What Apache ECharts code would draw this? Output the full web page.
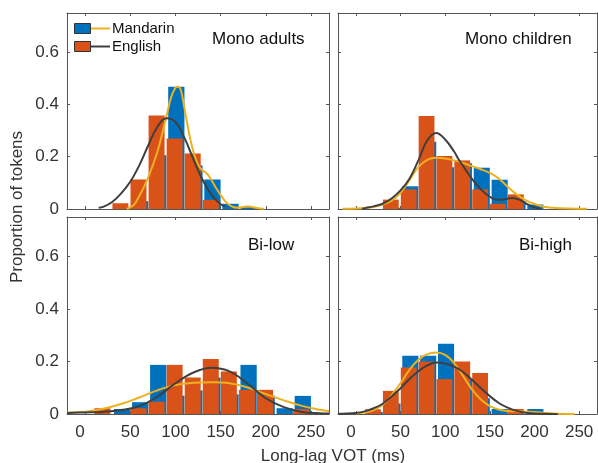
<!DOCTYPE html>
<html>
<head>
<meta charset="utf-8">
<script src="https://cdn.jsdelivr.net/npm/echarts@6/dist/echarts.min.js"></script>
<style>
html,body{margin:0;padding:0;background:#fff}
#chart{width:598px;height:463px}
</style>
</head>
<body>
<div id="chart"></div>
<script>
// histogram bins: left edges, 20 ms wide
var binLeft = [10, 30, 50, 70, 90, 110, 130, 150, 170, 190, 210, 230];
var binWidth = 20;
var xTicks = [0, 50, 100, 150, 200, 250];
var yTicks = [0, 0.2, 0.4, 0.6];
var panelNames = ['Mono adults', 'Mono children', 'Bi-low', 'Bi-high'];

// bar heights (proportion of tokens)
var monoAdultsMandarin = [0, 0, 0.03, 0.206, 0.468, 0.167, 0.113, 0.02, 0.007, 0, 0, 0];
var monoAdultsEnglish = [0, 0.022, 0.113, 0.358, 0.27, 0.212, 0.035, 0, 0, 0, 0, 0];
var monoChildrenMandarin = [0, 0.005, 0.087, 0.257, 0.16, 0.175, 0.158, 0.112, 0.03, 0.017, 0, 0];
var monoChildrenEnglish = [0, 0.036, 0.075, 0.356, 0.203, 0.186, 0.075, 0.02, 0.056, 0, 0, 0];
var biLowMandarin = [0, 0.019, 0.045, 0.187, 0.07, 0.09, 0.139, 0.075, 0.187, 0.07, 0.022, 0.069];
var biLowEnglish = [0.022, 0, 0.022, 0.047, 0.187, 0.139, 0.209, 0.162, 0.092, 0.092, 0, 0.019];
var biHighMandarin = [0.008, 0.04, 0.222, 0.222, 0.267, 0.13, 0.06, 0.019, 0, 0.019, 0, 0];
var biHighEnglish = [0.018, 0.088, 0.177, 0.2, 0.133, 0.2, 0.156, 0, 0.019, 0, 0, 0];

// density curves [ms, proportion]
var monoAdultsMandarinCurve = [[46,0],[50,0.006],[55,0.02],[60,0.05],[65,0.083],[70,0.122],[75,0.168],[80,0.218],[85,0.283],[90,0.353],[95,0.425],[100,0.464],[103,0.468],[106,0.455],[110,0.385],[115,0.292],[120,0.218],[125,0.17],[130,0.148],[135,0.135],[140,0.11],[145,0.08],[150,0.054],[155,0.03],[160,0.015],[165,0.007],[170,0.005],[175,0.008],[180,0.01],[185,0.008],[190,0.004],[198,0.001]];
var monoAdultsEnglishCurve = [[15,0.005],[20,0.008],[30,0.027],[40,0.06],[50,0.104],[60,0.167],[70,0.244],[80,0.314],[90,0.347],[100,0.333],[110,0.272],[120,0.19],[130,0.112],[140,0.054],[150,0.018],[155,0.01]];
var monoChildrenMandarinCurve = [[-15,0.001],[0,0.002],[10,0.004],[20,0.008],[30,0.017],[40,0.032],[50,0.062],[60,0.11],[70,0.16],[80,0.188],[90,0.196],[100,0.193],[110,0.186],[120,0.176],[130,0.164],[140,0.152],[150,0.138],[160,0.117],[170,0.085],[180,0.056],[190,0.034],[200,0.019],[210,0.009],[220,0.005],[240,0.002],[259,0.001]];
var monoChildrenEnglishCurve = [[7,0.001],[10,0.003],[20,0.01],[30,0.02],[40,0.04],[50,0.071],[60,0.116],[70,0.186],[80,0.263],[90,0.291],[100,0.266],[110,0.22],[115,0.19],[120,0.165],[130,0.115],[140,0.075],[150,0.047],[158,0.035],[165,0.036],[175,0.042],[183,0.036],[190,0.022],[200,0.006],[207,0.001]];
var biLowMandarinCurve = [[-20,0.006],[0,0.009],[20,0.02],[40,0.038],[60,0.063],[80,0.09],[100,0.11],[120,0.119],[140,0.121],[160,0.117],[180,0.101],[200,0.076],[220,0.052],[240,0.031],[260,0.016],[270,0.011]];
var biLowEnglishCurve = [[-20,0.004],[0,0.006],[20,0.008],[40,0.015],[60,0.03],[80,0.066],[100,0.117],[120,0.158],[140,0.176],[160,0.162],[180,0.115],[200,0.06],[220,0.026],[240,0.008],[260,0.003],[270,0.002]];
var biHighMandarinCurve = [[0,0.002],[10,0.006],[20,0.015],[30,0.035],[40,0.072],[50,0.117],[60,0.168],[70,0.207],[80,0.228],[90,0.234],[100,0.225],[110,0.194],[120,0.145],[130,0.094],[140,0.055],[150,0.03],[160,0.017],[170,0.011],[180,0.01],[190,0.009],[200,0.008],[210,0.005],[220,0.002],[245,0]];
var biHighEnglishCurve = [[-20,0.001],[0,0.004],[10,0.01],[20,0.022],[30,0.039],[40,0.067],[50,0.098],[60,0.133],[70,0.163],[80,0.185],[90,0.196],[100,0.192],[110,0.18],[120,0.16],[130,0.13],[140,0.098],[150,0.068],[160,0.042],[170,0.024],[180,0.012],[190,0.005],[200,0.002],[226,0]];

var mandarinBars = [monoAdultsMandarin, monoChildrenMandarin, biLowMandarin, biHighMandarin];
var englishBars = [monoAdultsEnglish, monoChildrenEnglish, biLowEnglish, biHighEnglish];
var mandarinCurves = [monoAdultsMandarinCurve, monoChildrenMandarinCurve, biLowMandarinCurve, biHighMandarinCurve];
var englishCurves = [monoAdultsEnglishCurve, monoChildrenEnglishCurve, biLowEnglishCurve, biHighEnglishCurve];

var blue = '#0072BD', orange = '#D95319', yellow = '#EDB120', dark = '#3f3f3f';
var axisColor = '#555', textColor = '#333';
var font = "'Liberation Sans', Arial, sans-serif";

var grids = [
    {left: 67, top: 13, width: 262, height: 196},
    {left: 338, top: 13, width: 259, height: 196},
    {left: 67, top: 217, width: 262, height: 197},
    {left: 338, top: 217, width: 259, height: 197}
];
var titlePos = [[212, 40], [465, 40], [248, 246], [519, 246]];

function barRenderer(from, to) {
    return function (params, api) {
        var x0 = api.value(0), h = api.value(1);
        var p0 = api.coord([x0 + from, h]);
        var p1 = api.coord([x0 + to, 0]);
        return {
            type: 'rect',
            shape: {x: p0[0], y: p0[1], width: p1[0] - p0[0], height: p1[1] - p0[1]},
            style: api.style()
        };
    };
}

var xAxes = [], yAxes = [], series = [], titles = [];
for (var i = 0; i < 4; i++) {
    var showX = i >= 2, showY = i % 2 == 0;
    ['bottom', 'top'].forEach(function (pos) {
        xAxes.push({
            type: 'value', gridIndex: i, position: pos, min: -20, max: 270,
            axisLine: {onZero: false, lineStyle: {color: axisColor, width: 1}},
            axisTick: {inside: true, length: 3, customValues: xTicks, lineStyle: {color: axisColor}},
            axisLabel: {show: showX && pos == 'bottom', customValues: xTicks, margin: 10,
                color: textColor, fontSize: 17, fontFamily: font,
                // the "0" sits a little left of its tick in the original
                formatter: function (v) { return v === 0 ? '{z|0}' : String(v); },
                rich: {z: {padding: [0, 10, 0, 0], fontSize: 17, color: textColor, fontFamily: font}}},
            splitLine: {show: false}
        });
    });
    ['left', 'right'].forEach(function (pos) {
        yAxes.push({
            type: 'value', gridIndex: i, position: pos, min: 0, max: 0.75,
            axisLine: {show: true, onZero: false, lineStyle: {color: axisColor, width: 1}},
            axisTick: {show: true, inside: true, length: 3, customValues: yTicks, lineStyle: {color: axisColor}},
            axisLabel: {show: showY && pos == 'left', customValues: yTicks, margin: 8,
                color: textColor, fontSize: 17, fontFamily: font},
            splitLine: {show: false}
        });
    });
    titles.push({
        text: panelNames[i], left: titlePos[i][0], top: titlePos[i][1] - 9, padding: 0,
        textStyle: {fontSize: 17, fontWeight: 'normal', color: '#111', fontFamily: font}
    });
    var mData = binLeft.map(function (b, k) { return [b, mandarinBars[i][k]]; });
    var eData = binLeft.map(function (b, k) { return [b, englishBars[i][k]]; });
    series.push({
        type: 'custom', name: 'Mandarin', xAxisIndex: 2 * i, yAxisIndex: 2 * i,
        renderItem: barRenderer(2, binWidth), encode: {x: 0, y: 1},
        itemStyle: {color: blue}, data: mData, silent: true
    });
    series.push({
        type: 'custom', name: 'English', xAxisIndex: 2 * i, yAxisIndex: 2 * i,
        renderItem: barRenderer(0.3, 18), encode: {x: 0, y: 1},
        itemStyle: {color: orange}, data: eData, silent: true
    });
    series.push({
        type: 'line', name: 'Mandarin fit', xAxisIndex: 2 * i, yAxisIndex: 2 * i,
        data: mandarinCurves[i], smooth: 0.4, showSymbol: false,
        lineStyle: {color: yellow, width: 2}, z: 3
    });
    series.push({
        type: 'line', name: 'English fit', xAxisIndex: 2 * i, yAxisIndex: 2 * i,
        data: englishCurves[i], smooth: 0.4, showSymbol: false,
        lineStyle: {color: dark, width: 2}, z: 4
    });
}

var legendGraphics = [
    {type: 'rect', shape: {x: 74.5, y: 23.5, width: 16, height: 10}, style: {fill: blue, stroke: '#333', lineWidth: 1}},
    {type: 'line', shape: {x1: 91, y1: 28.5, x2: 110, y2: 28.5}, style: {stroke: yellow, lineWidth: 2}},
    {type: 'text', x: 112, y: 29, style: {text: 'Mandarin', fill: '#111', font: '15px ' + font, textVerticalAlign: 'middle'}},
    {type: 'rect', shape: {x: 74.5, y: 41.5, width: 16, height: 10}, style: {fill: orange, stroke: '#333', lineWidth: 1}},
    {type: 'line', shape: {x1: 91, y1: 46.5, x2: 110, y2: 46.5}, style: {stroke: dark, lineWidth: 2}},
    {type: 'text', x: 112, y: 47, style: {text: 'English', fill: '#111', font: '15px ' + font, textVerticalAlign: 'middle'}},
    {type: 'text', x: 333, y: 456, style: {text: 'Long-lag VOT (ms)', fill: textColor, font: '17px ' + font, textAlign: 'center', textVerticalAlign: 'middle'}},
    {type: 'text', x: 17, y: 207, rotation: Math.PI / 2, style: {text: 'Proportion of tokens', fill: textColor, font: '17px ' + font, textAlign: 'center', textVerticalAlign: 'middle'}}
];

var chart = echarts.init(document.getElementById('chart'), null, {renderer: 'canvas'});
chart.setOption({
    animation: false,
    backgroundColor: '#fff',
    title: titles,
    grid: grids,
    xAxis: xAxes,
    yAxis: yAxes,
    series: series,
    graphic: legendGraphics
});
</script>
</body>
</html>
